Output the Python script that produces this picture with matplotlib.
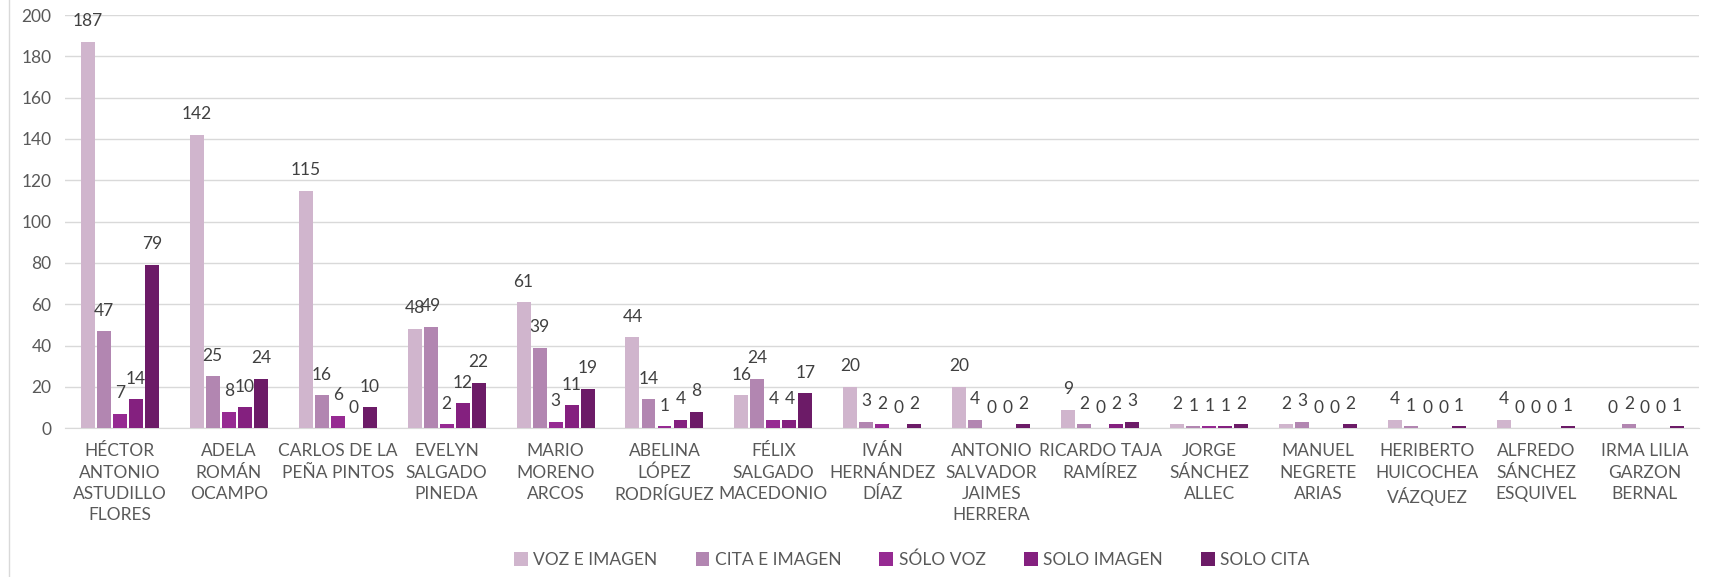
import matplotlib
matplotlib.use("Agg")
import matplotlib.pyplot as plt
import numpy as np

plt.rcParams['font.family'] = ['Lato', 'DejaVu Sans']

nombres = [
    "HÉCTOR\nANTONIO\nASTUDILLO\nFLORES",
    "ADELA\nROMÁN\nOCAMPO",
    "CARLOS DE LA\nPEÑA PINTOS",
    "EVELYN\nSALGADO\nPINEDA",
    "MARIO\nMORENO\nARCOS",
    "ABELINA\nLÓPEZ\nRODRÍGUEZ",
    "FÉLIX\nSALGADO\nMACEDONIO",
    "IVÁN\nHERNÁNDEZ\nDÍAZ",
    "ANTONIO\nSALVADOR\nJAIMES\nHERRERA",
    "RICARDO TAJA\nRAMÍREZ",
    "JORGE\nSÁNCHEZ\nALLEC",
    "MANUEL\nNEGRETE\nARIAS",
    "HERIBERTO\nHUICOCHEA\nVÁZQUEZ",
    "ALFREDO\nSÁNCHEZ\nESQUIVEL",
    "IRMA LILIA\nGARZON\nBERNAL",
]

series = ["VOZ E IMAGEN", "CITA E IMAGEN", "SÓLO VOZ", "SOLO IMAGEN", "SOLO CITA"]

voz_imagen  = [187, 142, 115, 48, 61, 44, 16, 20, 20, 9, 2, 2, 4, 4, 0]
cita_imagen = [47, 25, 16, 49, 39, 14, 24, 3, 4, 2, 1, 3, 1, 0, 2]
solo_voz    = [7, 8, 6, 2, 3, 1, 4, 2, 0, 0, 1, 0, 0, 0, 0]
solo_imagen = [14, 10, 0, 12, 11, 4, 4, 0, 0, 2, 1, 0, 0, 0, 0]
solo_cita   = [79, 24, 10, 22, 19, 8, 17, 2, 2, 3, 2, 2, 1, 1, 1]

colores = ["#D0B5CD", "#B286B1", "#962A92", "#84207F", "#6C1B67"]

valores = [voz_imagen, cita_imagen, solo_voz, solo_imagen, solo_cita]

fig = plt.figure(figsize=(17.2, 5.77), dpi=100)
ax = fig.add_axes([0.038, 0.258, 0.95, 0.716])

x = np.arange(len(nombres))
paso = 0.147
ancho = 0.128
for i, (serie, vals, c) in enumerate(zip(series, valores, colores)):
    bars = ax.bar(x + (i - 2) * paso, vals, ancho, color=c, label=serie, zorder=3)
    ax.bar_label(bars, padding=9, fontsize=12.5, color="#404040")

ax.set_xlim(-0.5, len(nombres) - 0.5)
ax.set_ylim(0, 200)
ax.set_yticks(range(0, 201, 20))
ax.yaxis.grid(True, color="#D9D9D9", linewidth=1, zorder=0)
ax.set_xticks(x)
ax.set_xticklabels(nombres, fontsize=12.5, color="#595959", linespacing=1.4)
ax.tick_params(axis='y', labelsize=12.5, labelcolor="#595959", length=0, pad=10)
ax.tick_params(axis='x', length=0, pad=11)
for s in ["top", "right", "left"]:
    ax.spines[s].set_visible(False)
ax.spines["bottom"].set_color("#D9D9D9")

fig.legend(loc="center", bbox_to_anchor=(0.53, 0.03), ncol=5, frameon=False,
           fontsize=12.5, handlelength=0.8, handleheight=0.8, handletextpad=0.3,
           columnspacing=2.2, labelcolor="#595959")

# borde izquierdo del área del gráfico
fig.add_artist(plt.Line2D([0.005, 0.005], [0, 1], transform=fig.transFigure,
                          color="#D9D9D9", linewidth=1))

fig.savefig("out.png", dpi=100)
